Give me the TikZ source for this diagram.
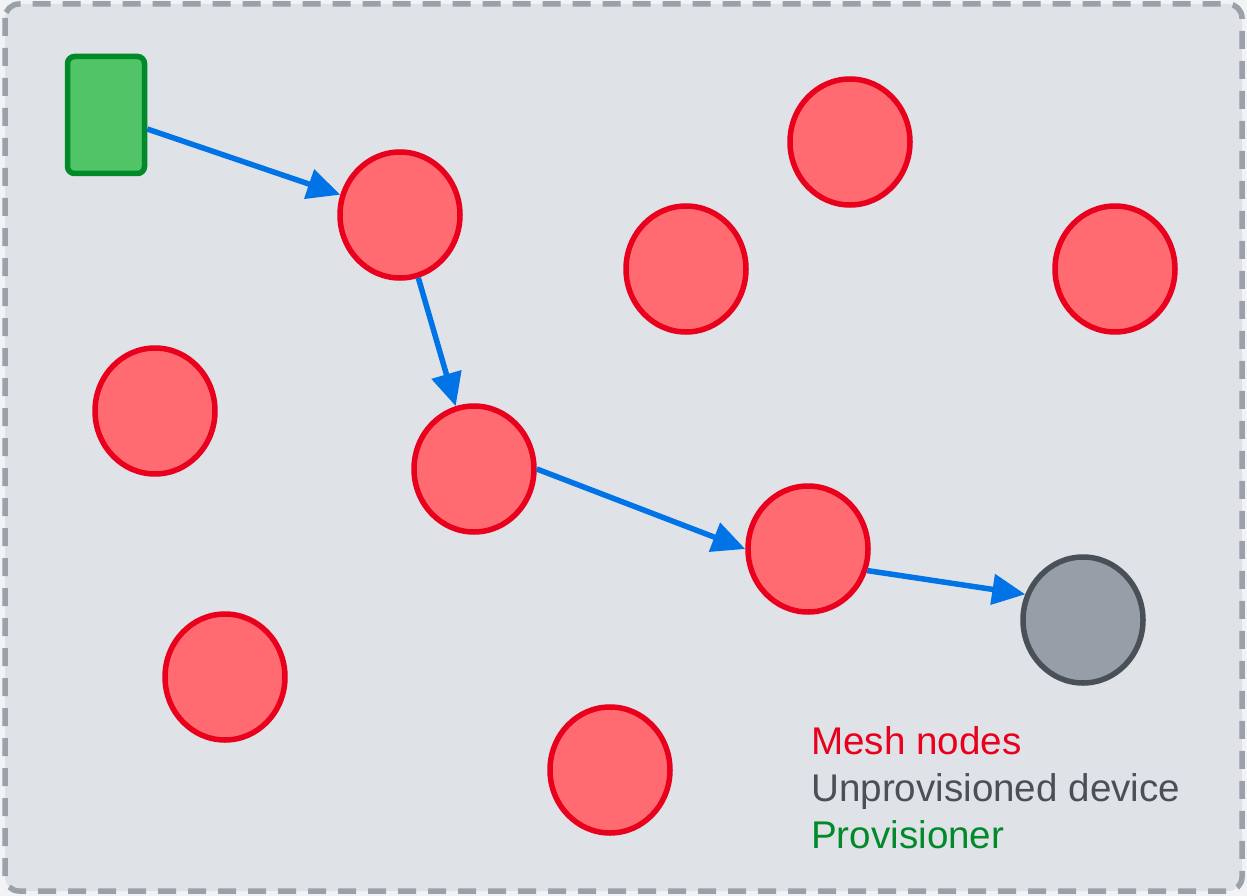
\documentclass[tikz,border=0pt]{standalone}
\usepackage{fontspec}
\setmainfont{Liberation Sans}
\usetikzlibrary{shapes.geometric,arrows.meta}
\definecolor{outerbg}{HTML}{F2F3F5}
\definecolor{innerbg}{HTML}{DFE2E7}
\definecolor{frameline}{HTML}{9BA1A8}
\definecolor{meshfill}{HTML}{FF6B70}
\definecolor{meshline}{HTML}{E8001C}
\definecolor{devfill}{HTML}{979EA7}
\definecolor{devline}{HTML}{4A5058}
\definecolor{provfill}{HTML}{52C468}
\definecolor{provline}{HTML}{008A2A}
\definecolor{hop}{HTML}{0073E6}
\tikzset{
  mesh/.style={ellipse,draw=meshline,fill=meshfill,line width=5.5pt,inner sep=0pt,
    minimum width=120pt,minimum height=126pt},
  device/.style={mesh,draw=devline,fill=devfill},
  provbox/.style={rectangle,rounded corners=7pt,draw=provline,fill=provfill,line width=5.5pt,
    minimum width=77pt,minimum height=117pt},
  hoparrow/.style={draw=hop,line width=5.5pt,-{Triangle[length=33pt,width=30pt]}},
  legend/.style={anchor=base west,inner sep=0pt,font=\fontsize{38.6pt}{46pt}\selectfont}
}
\begin{document}
\begin{tikzpicture}[x=1pt,y=-1pt]
%background
\fill[outerbg] (0,0) rectangle (1247,896);
\draw[frameline,fill=innerbg,line width=5.5pt,dash pattern=on 18pt off 12pt,rounded corners=14pt]
  (5,4) rectangle (1242,891);
% mesh nodes
\foreach \name/\x/\y in {m1/400/215,m2/850/142,m3/686/269,m4/1115/269,m5/155/411,
  m6/474/469,m7/808/549,m8/225/677,m9/610/770}{
\node[mesh] (\name) at (\x,\y) {};
}
\node[device] (dev) at (1083,620) {};
\node[provbox] (prov) at (106,115) {};
% path
\draw[hoparrow] (prov) -- (m1);
\draw[hoparrow] (m1) -- (m6);
\draw[hoparrow] (m6.east) -- (m7.west);
\draw[hoparrow] (m7.-20) -- (dev.156);
% legend
\node[legend,text=meshline] (lmesh) at (811,754) {Mesh nodes};
\node[legend,text=devline] (ldev) at (811,801) {Unprovisioned device};
\node[legend,text=provline] (lprov) at (811,848) {Provisioner};
\end{tikzpicture}
\end{document}
